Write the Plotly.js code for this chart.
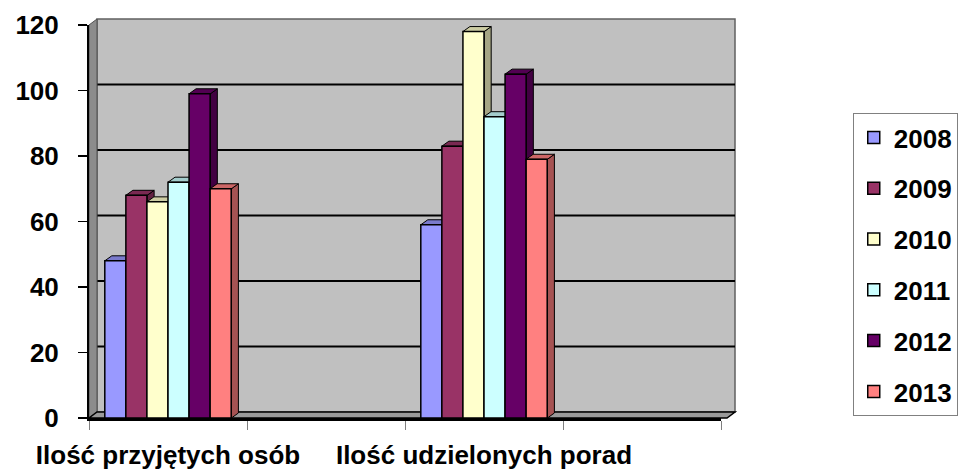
<!DOCTYPE html>
<html>
<head>
<meta charset="utf-8">
<script src="https://cdn.plot.ly/plotly-3.0.1.min.js"></script>
<style>html,body{margin:0;padding:0;background:#fff;}#chart{width:970px;height:476px;}</style>
</head>
<body>
<div id="chart"></div>
<script>
// ---- data ----
const categories = ["Ilość przyjętych osób", " ", "Ilość udzielonych porad", "  "];
const years = ["2008", "2009", "2010", "2011", "2012", "2013"];
const v2008 = [48, null, 59, null];
const v2009 = [68, null, 83, null];
const v2010 = [66, null, 118, null];
const v2011 = [72, null, 92, null];
const v2012 = [99, null, 105, null];
const v2013 = [70, null, 79, null];
const yTicks = [0, 20, 40, 60, 80, 100, 120];

// ---- style ----
const colors = ["#9999FF", "#993366", "#FFFFCC", "#CCFFFF", "#660066", "#FF8080"];
const series = [v2008, v2009, v2010, v2011, v2012, v2013];
const FONT = "Liberation Sans, Arial, sans-serif";
const W = 970, H = 476;
const M = {l: 89, r: 243, t: 25, b: 58};
const plotW = W - M.l - M.r, plotH = H - M.t - M.b;
const yMax = 120;
const bargap = 0.2;
const wallDX = 8, wallDY = 6;   // depth of walls in px
const barDX = 7, barDY = 5;     // depth of bars in px

function shade(hex, f) {
  const n = parseInt(hex.slice(1), 16);
  const r = Math.round(((n >> 16) & 255) * f), g = Math.round(((n >> 8) & 255) * f), b = Math.round((n & 255) * f);
  return `rgb(${r},${g},${b})`;
}

const traces = years.map((yr, i) => ({
  type: "bar",
  name: yr,
  legendgroup: yr,
  x: categories,
  y: series[i],
  marker: {color: colors[i], line: {color: "#000", width: 1.5}},
  hoverinfo: "x+y+name"
}));

const shapes = [];
// back wall
shapes.push({type: "rect", xref: "paper", yref: "paper", xsizemode: "pixel", ysizemode: "pixel",
  xanchor: 0, yanchor: 0, x0: wallDX, x1: plotW + wallDX, y0: wallDY, y1: plotH + wallDY,
  fillcolor: "#C0C0C0", line: {color: "#606060", width: 1.5}, layer: "below"});
// gridlines on back wall
yTicks.filter(v => v > 0 && v < yMax).forEach(v => {
  shapes.push({type: "path", xref: "paper", yref: "y", xsizemode: "pixel", ysizemode: "pixel",
    xanchor: 0, yanchor: v, path: `M0,0 L${wallDX},${wallDY} L${plotW + wallDX},${wallDY}`,
    line: {color: "#000", width: 2}, layer: "below"});
});
// left wall
shapes.push({type: "path", xref: "paper", yref: "paper", xsizemode: "pixel", ysizemode: "pixel",
  xanchor: 0, yanchor: 0, path: `M0,0 L${wallDX},${wallDY} L${wallDX},${plotH + wallDY} L0,${plotH} Z`,
  fillcolor: "#8C8C8C", line: {color: "#505050", width: 1}, layer: "below"});
// floor
shapes.push({type: "path", xref: "paper", yref: "paper", xsizemode: "pixel", ysizemode: "pixel",
  xanchor: 0, yanchor: 0, path: `M0,0 L${plotW},0 L${plotW + wallDX},${wallDY} L${wallDX},${wallDY} Z`,
  fillcolor: "#9A9A9A", line: {color: "#000", width: 1.5}, layer: "below"});

// 3D faces of bars (derived from the data through the axes)
const nS = series.length;
const slotPx = plotW / categories.length;
const bwPx = slotPx * (1 - bargap) / nS;
const dyData = barDY * yMax / plotH;
series.forEach((vals, i) => {
  vals.forEach((v, c) => {
    if (v === null) return;
    const left = c - (1 - bargap) / 2 + i * (1 - bargap) / nS;
    // side face
    shapes.push({type: "path", xref: "x", yref: "y", xsizemode: "pixel", ysizemode: "scaled",
      xanchor: left,
      path: `M${bwPx},0 L${bwPx + barDX},${dyData} L${bwPx + barDX},${v + dyData} L${bwPx},${v} Z`,
      fillcolor: shade(colors[i], 0.65), line: {color: "#000", width: 1}, layer: "below"});
    // top face
    shapes.push({type: "path", xref: "x", yref: "y", xsizemode: "pixel", ysizemode: "scaled",
      xanchor: left,
      path: `M0,${v} L${barDX},${v + dyData} L${bwPx + barDX},${v + dyData} L${bwPx},${v} Z`,
      fillcolor: shade(colors[i], 0.8), line: {color: "#000", width: 1}, layer: "below"});
  });
});

const layout = {
  width: W, height: H,
  margin: {l: M.l, r: M.r, t: M.t, b: M.b, pad: 0},
  paper_bgcolor: "#fff",
  plot_bgcolor: "rgba(0,0,0,0)",
  barmode: "group",
  bargap: bargap,
  bargroupgap: 0,
  font: {family: FONT, color: "#000"},
  xaxis: {
    type: "category", categoryorder: "array", categoryarray: categories,
    showline: true, linecolor: "#000", linewidth: 3,
    ticks: "outside", tickson: "boundaries", ticklen: 9, tickcolor: "#808080", tickwidth: 1,
    tickangle: 0, ticklabelstandoff: 12,
    tickfont: {family: FONT, size: 26, weight: "bold", color: "#000"},
    showgrid: false, zeroline: false, automargin: false, fixedrange: true
  },
  yaxis: {
    range: [0, yMax], tickmode: "array", tickvals: yTicks,
    showline: true, linecolor: "#000", linewidth: 2,
    ticks: "outside", ticklen: 9, tickcolor: "#000", tickwidth: 1.5,
    ticklabelstandoff: 14,
    tickfont: {family: FONT, size: 26, weight: "bold", color: "#000"},
    showgrid: false, zeroline: false, automargin: false, fixedrange: true
  },
  legend: {
    x: (860 - M.l) / plotW, xanchor: "left",
    y: (418 - 113) / plotH, yanchor: "top",
    bgcolor: "#fff", bordercolor: "#808080", borderwidth: 1,
    font: {family: FONT, size: 26, weight: "bold", color: "#000"},
    traceorder: "grouped", tracegroupgap: 14
  },
  shapes: shapes,
  showlegend: true
};

Plotly.newPlot("chart", traces, layout, {displayModeBar: false, staticPlot: true});
</script>
</body>
</html>
